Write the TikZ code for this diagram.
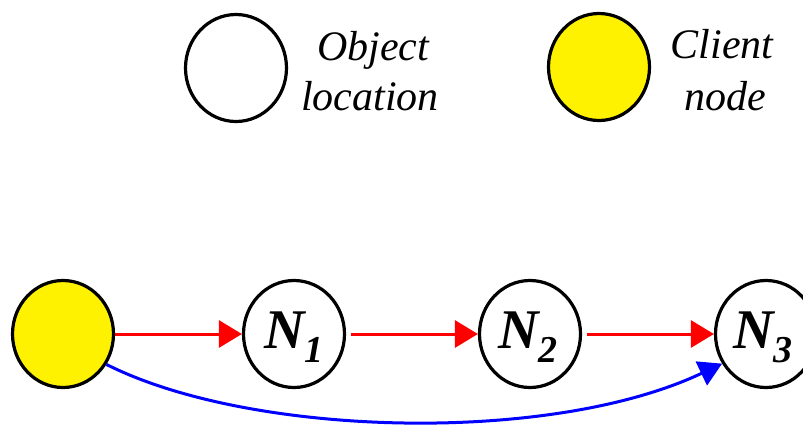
\documentclass[tikz,border=0pt]{standalone}
\usepackage{fontspec}
\setmainfont{Liberation Serif}
\usetikzlibrary{shapes.geometric,arrows.meta}
\tikzset{
  loc/.style={ellipse,draw=black,line width=3.2pt,fill=white,minimum width=101pt,minimum height=107pt,inner sep=0pt},
  client/.style={loc,fill=yellow},
  legtext/.style={anchor=base,inner sep=0pt,font=\fontsize{42}{50}\selectfont\itshape},
  nlabel/.style={anchor=base,inner sep=0pt},
  redarrow/.style={red,line width=3pt,-{Triangle[length=23pt,width=27pt]}},
  bluearrow/.style={blue,line width=3pt,-{Triangle[length=23pt,width=26pt]}},
}
\newcommand{\nlab}[1]{{\fontsize{56}{56}\selectfont\bfseries\itshape N\raisebox{-14pt}{\fontsize{38}{38}\selectfont #1}}}
\begin{document}
\begin{tikzpicture}[x=1pt,y=-1pt]
\useasboundingbox (0,0) rectangle (803,426);
% legend
\node[loc] (legloc) at (236,68) {};
\node[legtext] (t1) at (373,60) {Object};
\node[legtext] (t2) at (370,110) {location};
\node[client] (legcli) at (599,67) {};
\node[legtext] (t3) at (722,58) {Client};
\node[legtext] (t4) at (725,110) {node};
% chain
\node[client] (c) at (63,334) {};
\node[loc] (n1) at (294,334) {};
\node[loc] (n2) at (530,334) {};
\node[loc] (n3) at (766,334) {};
\node[nlabel] (l1) at (294,348) {\nlab{1}};
\node[nlabel] (l2) at (528,348) {\nlab{2}};
\node[nlabel] (l3) at (763,348) {\nlab{3}};
\draw[redarrow] (c.east) -- (n1.west);
\draw[redarrow,shorten <=5pt] (n1.east) -- (n2.west);
\draw[redarrow,shorten <=5pt] (n2.east) -- (n3.west);
\draw[bluearrow] (c.-35) .. controls (250,437) and (550,445) .. (n3.-146);
\end{tikzpicture}
\end{document}
